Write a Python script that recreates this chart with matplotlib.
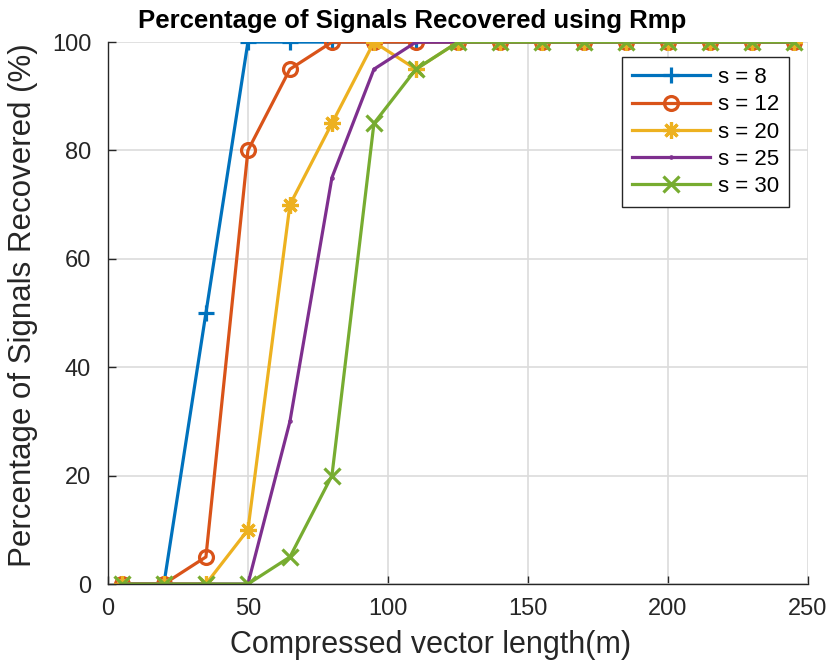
import numpy as np
import matplotlib.pyplot as plt

plt.rcParams['font.family'] = ['Liberation Sans', 'DejaVu Sans']

m = [5, 20, 35, 50, 65, 80, 95, 110, 125, 140, 155, 170, 185, 200, 215, 230, 245]
s8 = [0, 0, 50, 100, 100, 100, 100, 100, 100, 100, 100, 100, 100, 100, 100, 100, 100]
s12 = [0, 0, 5, 80, 95, 100, 100, 100, 100, 100, 100, 100, 100, 100, 100, 100, 100]
s20 = [0, 0, 0, 10, 70, 85, 100, 95, 100, 100, 100, 100, 100, 100, 100, 100, 100]
s25 = [0, 0, 0, 0, 30, 75, 95, 100, 100, 100, 100, 100, 100, 100, 100, 100, 100]
s30 = [0, 0, 0, 0, 5, 20, 85, 95, 100, 100, 100, 100, 100, 100, 100, 100, 100]

asterisk = (8, 2, 0)
series = [
    ('s = 8', s8, '#0072BD', '+', 12),
    ('s = 12', s12, '#D95319', 'o', 10),
    ('s = 20', s20, '#EDB120', asterisk, 12),
    ('s = 25', s25, '#7E2F8E', '.', 2),
    ('s = 30', s30, '#77AC30', 'x', 11),
]

fig = plt.figure(figsize=(8.3, 6.68), dpi=100)
ax = fig.add_axes([0.130, 0.1257, 0.8435, 0.8113])

for label, y, c, mk, ms in series:
    mfc = c if mk == '.' else 'none'
    ax.plot(m, y, color=c, marker=mk, markersize=ms, markerfacecolor=mfc,
            markeredgewidth=2.3, linewidth=2.3, label=label)

ax.set_xlim(0, 250)
ax.set_ylim(0, 100)
ax.set_xticks([0, 50, 100, 150, 200, 250])
ax.set_yticks([0, 20, 40, 60, 80, 100])
ax.grid(True, color='#dcdcdc', linewidth=1.2)
ax.set_axisbelow(True)
for sp in ('top', 'right'):
    ax.spines[sp].set_visible(False)
for sp in ('left', 'bottom'):
    ax.spines[sp].set_color('#262626')
    ax.spines[sp].set_linewidth(1.0)
ax.tick_params(labelsize=17, colors='#262626', direction='in', length=6, width=1)
ax.tick_params(axis='y', pad=12)
ax.tick_params(axis='x', pad=10)
ax.set_xlabel('Compressed vector length(m)', fontsize=22, color='#262626')
ax.xaxis.set_label_coords(0.461, -0.085)
ax.set_ylabel('Percentage of Signals Recovered (%)', fontsize=22.5, color='#262626')
ax.yaxis.set_label_coords(-0.1, 0.515)
fig.text(412 / 830, 0.968, 'Percentage of Signals Recovered using Rmp', fontsize=18.5,
         fontweight='bold', ha='center', va='center')

leg = ax.legend(loc='upper right', bbox_to_anchor=(0.973, 0.972), borderaxespad=0, fontsize=16,
                fancybox=False, framealpha=1, edgecolor='#262626',
                handlelength=3.5, labelspacing=0.28, borderpad=0.45, handletextpad=0.35)
leg.get_frame().set_linewidth(1.0)

plt.savefig('out.png', dpi=100)
